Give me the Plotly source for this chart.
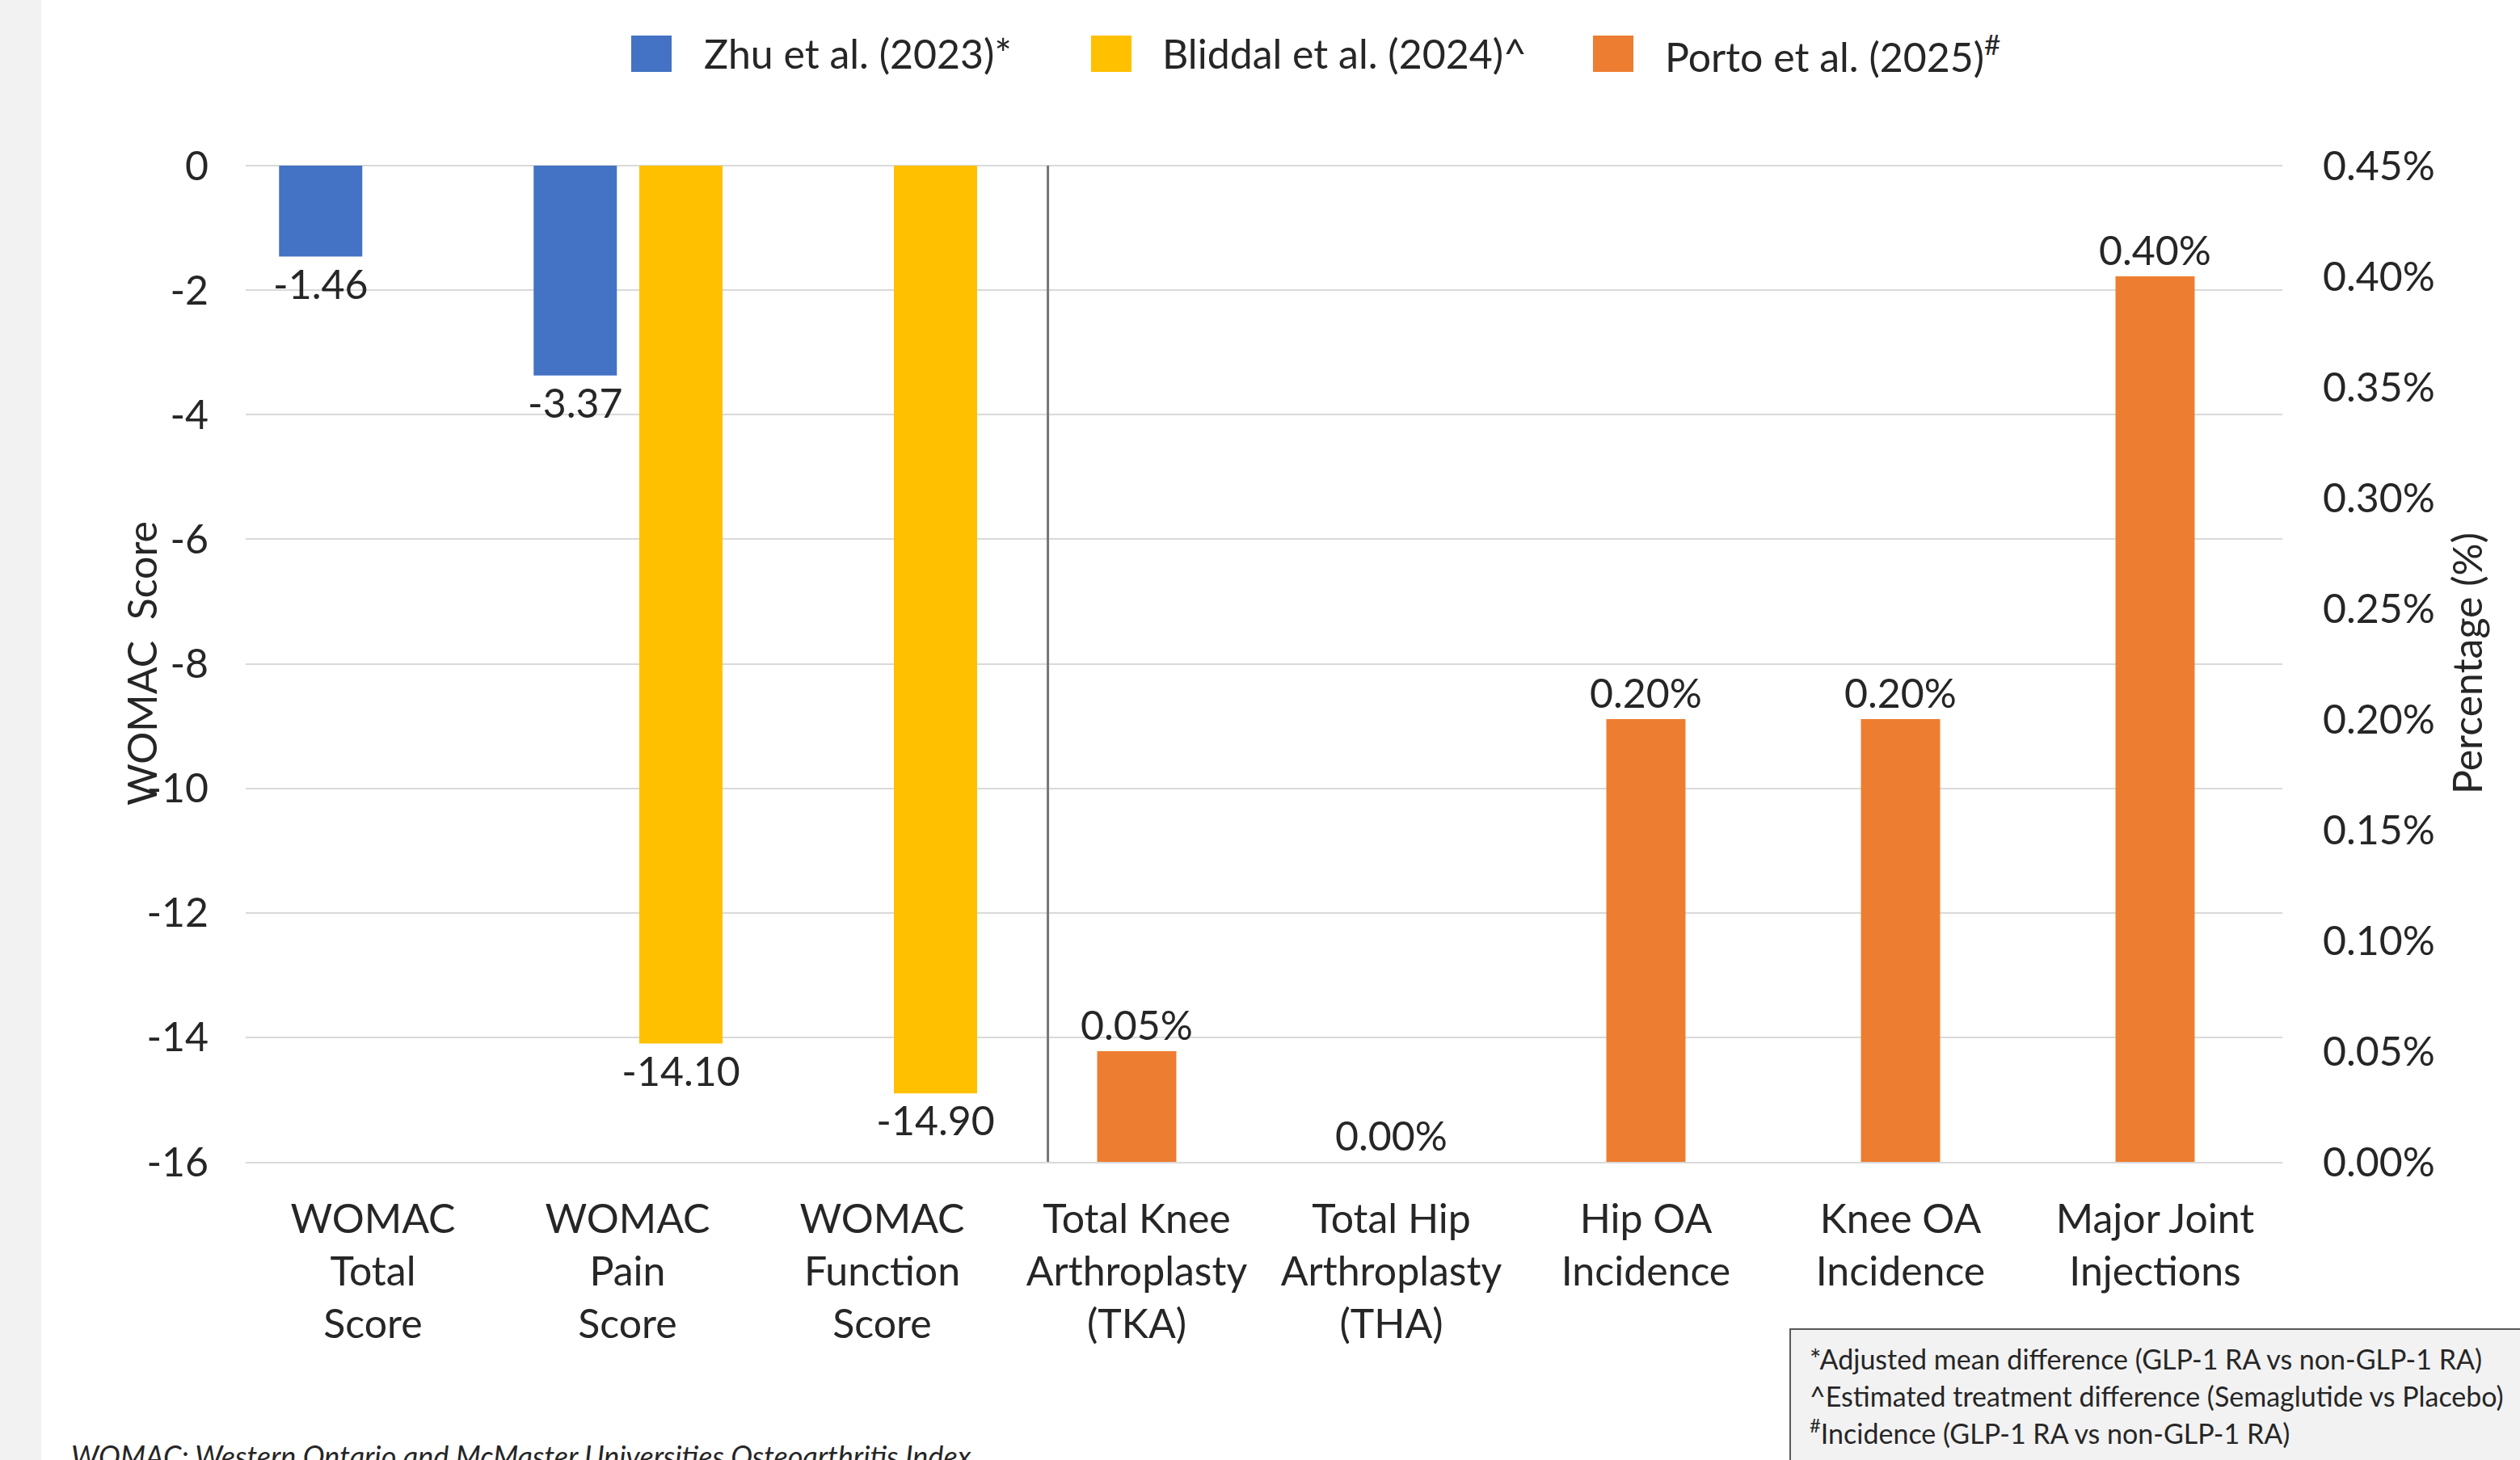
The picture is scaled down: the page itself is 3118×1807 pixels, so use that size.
import plotly.graph_objects as go

# ---------------- data ----------------
categories = [
    "WOMAC<br>Total<br>Score",
    "WOMAC<br>Pain<br>Score",
    "WOMAC<br>Function<br>Score",
    "Total Knee<br>Arthroplasty<br>(TKA)",
    "Total Hip<br>Arthroplasty<br>(THA)",
    "Hip OA<br>Incidence",
    "Knee OA<br>Incidence",
    "Major Joint<br>Injections",
]
zhu_values = [-1.46, -3.37, None, None, None, None, None, None]
bliddal_values = [None, -14.10, -14.90, None, None, None, None, None]
porto_values = [None, None, None, 0.05, 0.00, 0.20, 0.20, 0.40]  # percent

left_tick_vals = [0, -2, -4, -6, -8, -10, -12, -14, -16]
left_tick_text = ["0", "-2", "-4", "-6", "-8", "-10", "-12", "-14", "-16"]

series_names = ["Zhu et al. (2023)*", "Bliddal et al. (2024)^", "Porto et al. (2025)<sup>#</sup>"]
footnotes = [
    "*Adjusted mean difference (GLP-1 RA vs non-GLP-1 RA)",
    "^Estimated treatment difference (Semaglutide vs Placebo)",
    "<sup>#</sup>Incidence (GLP-1 RA vs non-GLP-1 RA)",
]
abbrev_note = "WOMAC: Western Ontario and McMaster Universities Osteoarthritis Index"

# ---------------- style ----------------
W, H = 3118, 1807
L, R, T, B = 304, 2824, 205, 1438
PW, PH = R - L, B - T
BLUE, YELLOW, ORANGE = "#4472C4", "#FFC000", "#ED7D31"
TXT = "#262626"
FONT = "Lato"
FS = 50


def px(x):
    return (x - L) / PW


def py(y):
    return (B - y) / PH


def fmt_labels(vals, suffix=""):
    return ["" if v is None else f"{v:.2f}{suffix}" for v in vals]


bar_common = dict(
    textposition="outside", constraintext="none", cliponaxis=False,
    textfont=dict(family=FONT, size=FS, color=TXT), textangle=0,
)

fig = go.Figure()
fig.add_trace(go.Bar(
    x=categories, y=zhu_values, name=series_names[0],
    marker=dict(color=BLUE, line=dict(width=8, color="rgba(0,0,0,0)")),
    width=0.327, offset=-0.369, yaxis="y",
    text=fmt_labels(zhu_values), **bar_common,
))
fig.add_trace(go.Bar(
    x=categories, y=bliddal_values, name=series_names[1],
    marker=dict(color=YELLOW, line=dict(width=8, color="rgba(0,0,0,0)")),
    width=0.327, offset=0.046, yaxis="y",
    text=fmt_labels(bliddal_values), **bar_common,
))
fig.add_trace(go.Bar(
    x=categories, y=porto_values, name=series_names[2],
    marker=dict(color=ORANGE, line=dict(width=8, color="rgba(0,0,0,0)")),
    width=0.311, offset=-0.1555, yaxis="y2",
    text=fmt_labels(porto_values, "%"), **bar_common,
))

shapes = []
annotations = []

# left gray strip
shapes.append(dict(type="rect", xref="paper", yref="paper",
                   x0=px(-10), x1=px(51), y0=py(H + 10), y1=py(-10),
                   fillcolor="#F2F2F2", line=dict(width=0), layer="below"))
# separator line
shapes.append(dict(type="line", xref="x", yref="y", x0=2.651, x1=2.651, y0=-16, y1=0,
                   line=dict(color="#767676", width=3)))

# manual legend
legend_items = [
    (781, 869, BLUE, series_names[0]),
    (1350, 1436, YELLOW, series_names[1]),
    (1971, 2058, ORANGE, series_names[2]),
]
for bx, tx, col, name in legend_items:
    shapes.append(dict(type="rect", xref="paper", yref="paper",
                       x0=px(bx), x1=px(bx + 50), y0=py(89), y1=py(44),
                       fillcolor=col, line=dict(width=0)))
    annotations.append(dict(xref="paper", yref="paper", x=px(tx), y=py(66),
                            xanchor="left", yanchor="middle", showarrow=False,
                            text=name, font=dict(family=FONT, size=FS, color=TXT)))

# axis titles
annotations.append(dict(xref="paper", yref="paper", x=px(175), y=py(821), textangle=-90,
                        xanchor="center", yanchor="middle", showarrow=False,
                        text="WOMAC  Score", font=dict(family=FONT, size=FS, color=TXT)))
annotations.append(dict(xref="paper", yref="paper", x=px(3052), y=py(821), textangle=-90,
                        xanchor="center", yanchor="middle", showarrow=False,
                        text="Percentage (%)", font=dict(family=FONT, size=FS, color=TXT)))

# footnote box
shapes.append(dict(type="rect", xref="paper", yref="paper",
                   x0=px(2215), x1=px(3140), y0=py(1830), y1=py(1645),
                   fillcolor="#F2F2F2", line=dict(color="#595959", width=2)))
for i, line in enumerate(footnotes):
    annotations.append(dict(xref="paper", yref="paper", x=px(2237), y=py(1682 + 45 * i),
                            xanchor="left", yanchor="middle", showarrow=False,
                            text=line, font=dict(family=FONT, size=34, color=TXT)))

annotations.append(dict(xref="paper", yref="paper", x=px(86), y=py(1802),
                        xanchor="left", yanchor="middle", showarrow=False,
                        text=f"<i>{abbrev_note}</i>", font=dict(family=FONT, size=36, color=TXT)))

fig.update_layout(
    width=W, height=H,
    margin=dict(l=L, r=W - R, t=T, b=H - B, pad=0),
    paper_bgcolor="white", plot_bgcolor="white",
    barmode="overlay",
    showlegend=False,
    font=dict(family=FONT, size=FS, color=TXT),
    xaxis=dict(type="category", range=[-0.5, 7.5], showgrid=False, zeroline=False,
               showline=True, linecolor="#D9D9D9", linewidth=2, ticks="", ticklabelstandoff=26,
               tickfont=dict(family=FONT, size=FS, color=TXT)),
    yaxis=dict(range=[-16, 0], tickmode="array", tickvals=left_tick_vals, ticktext=left_tick_text,
               showgrid=True, gridcolor="#D9D9D9", gridwidth=2,
               zeroline=True, zerolinecolor="#D9D9D9", zerolinewidth=2,
               showline=False, ticks="", ticklabelstandoff=45,
               tickfont=dict(family=FONT, size=FS, color=TXT)),
    yaxis2=dict(range=[0, 0.45], dtick=0.05, tick0=0, overlaying="y", side="right",
                showgrid=False, zeroline=False, showline=False, ticks="",
                tickformat=".2f", ticksuffix="%", ticklabelstandoff=49,
                tickfont=dict(family=FONT, size=FS, color=TXT)),
    shapes=shapes,
    annotations=annotations,
)

fig.write_html("out.html")
